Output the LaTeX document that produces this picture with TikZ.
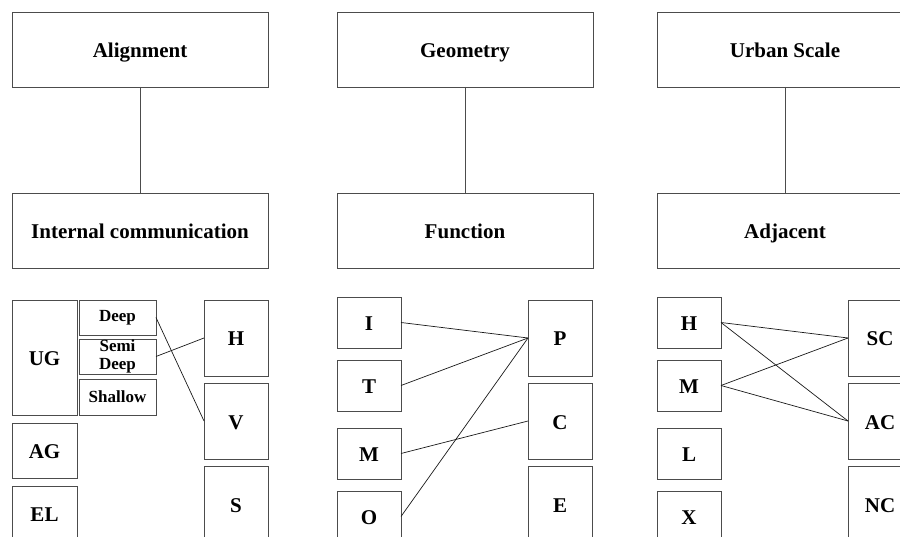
\documentclass[tikz,border=0pt]{standalone}
\usepackage{fontspec}
\setmainfont{Liberation Serif}
\usetikzlibrary{positioning}

\begin{document}
\begin{tikzpicture}[
    x=1pt, y=-1pt,
    head/.style={rectangle, draw=black!70, line width=0.8pt, inner sep=0pt, outer sep=0pt,
                 minimum width=256pt, minimum height=75pt, align=center, text height=16pt, text depth=0pt,
                 font=\fontsize{21}{24}\selectfont\bfseries},
    cell/.style={rectangle, draw=black!70, line width=0.8pt, inner sep=0pt, outer sep=0pt,
                 minimum width=64pt, minimum height=51pt, align=center, text height=16pt, text depth=0pt,
                 font=\fontsize{21}{24}\selectfont\bfseries},
    tallcell/.style={cell, minimum height=76pt},
    depthbox/.style={cell, minimum width=77pt, minimum height=35pt, text height=, text depth=,
                     font=\fontsize{17}{18}\selectfont\bfseries},
    link/.style={line width=0.7pt, draw=black!90}
]
\useasboundingbox (0,0) rectangle (900,537);

% alignment column
\node[head] (align) at (140,49.5) {Alignment};
\node[head, below=106pt of align] (intcom) {Internal communication};
\node[cell, minimum width=65pt, minimum height=115pt, below right=32pt and 0pt of intcom.south west] (ug) {UG};
\node[depthbox, below right=0pt and 2pt of ug.north east] (deep) {Deep};
\node[depthbox, below=4pt of deep] (semi) {Semi\\Deep};
\node[depthbox, minimum height=36pt, below=5pt of semi] (shallow) {Shallow};
\node[cell, minimum width=65pt, minimum height=55pt, below=8pt of ug] (ag) {AG};
\node[cell, minimum width=65pt, minimum height=55pt, below=8pt of ag] (el) {EL};
\node[tallcell, below left=32pt and 0pt of intcom.south east] (alh) {H};
\node[tallcell, below=7pt of alh] (alv) {V};
\node[tallcell, below=7pt of alv] (als) {S};

% geometry column
\node[head, right=69pt of align] (geom) {Geometry};
\node[head, below=106pt of geom] (func) {Function};
\node[cell, below right=29pt and 0pt of func.south west] (fi) {I};
\node[cell, below=12pt of fi] (ft) {T};
\node[cell, below=17pt of ft] (fm) {M};
\node[cell, below=12pt of fm] (fo) {O};
\node[tallcell, below left=32pt and 1pt of func.south east] (fp) {P};
\node[tallcell, below=7pt of fp] (fc) {C};
\node[tallcell, below=7pt of fc] (fe) {E};

% urban scale column
\node[head, right=64pt of geom] (urban) {Urban Scale};
\node[head, below=106pt of urban] (adj) {Adjacent};
\node[cell, below right=29pt and 0pt of adj.south west] (uh) {H};
\node[cell, below=12pt of uh] (um) {M};
\node[cell, below=17pt of um] (ul) {L};
\node[cell, below=12pt of ul] (ux) {X};
\node[tallcell, below left=32pt and 1pt of adj.south east] (usc) {SC};
\node[tallcell, below=7pt of usc] (uac) {AC};
\node[tallcell, below=7pt of uac] (unc) {NC};

\draw[link, draw=black!70] (align) -- (intcom);
\draw[link, draw=black!70] (geom) -- (func);
\draw[link, draw=black!70] (urban) -- (adj);

\draw[link] (deep.east) -- (alv.west);
\draw[link] (semi.east) -- (alh.west);

\draw[link] (fi.east) -- (fp.west);
\draw[link] (ft.east) -- (fp.west);
\draw[link] (fm.east) -- (fc.west);
\draw[link] (fo.east) -- (fp.west);

\draw[link] (uh.east) -- (usc.west);
\draw[link] (uh.east) -- (uac.west);
\draw[link] (um.east) -- (usc.west);
\draw[link] (um.east) -- (uac.west);
\end{tikzpicture}
\end{document}
